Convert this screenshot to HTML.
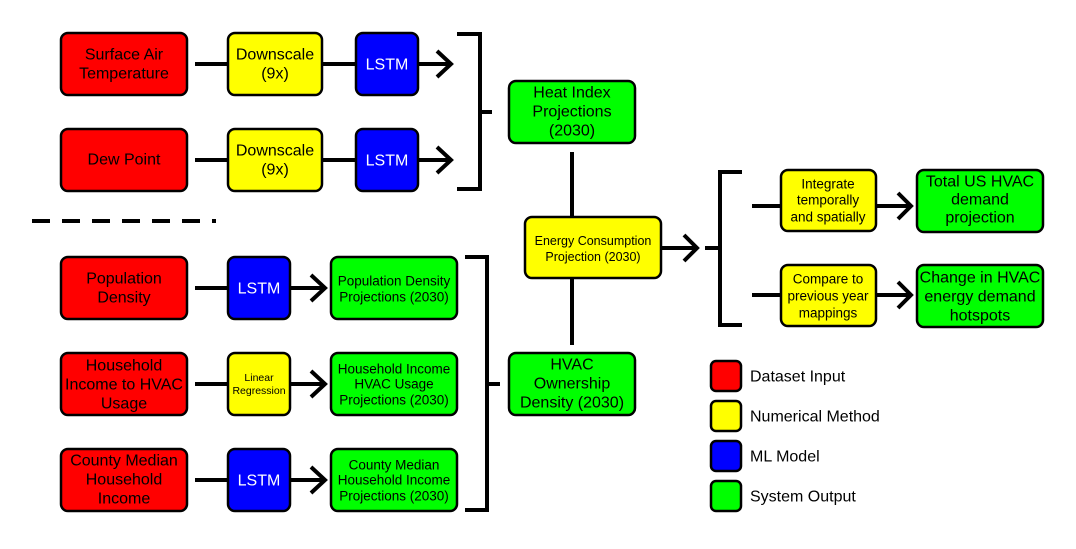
<!DOCTYPE html>
<html><head><meta charset="utf-8"><style>
body{margin:0;background:#fff}
svg text{font-family:"Liberation Sans",sans-serif;text-anchor:middle;dominant-baseline:central;fill:#000}
</style></head><body>
<svg width="1076" height="544" viewBox="0 0 1076 544" xmlns="http://www.w3.org/2000/svg">
<g stroke="#000" stroke-width="4" fill="none" stroke-linecap="butt">
<line x1="195" y1="64" x2="356" y2="64"/><line x1="418" y1="64" x2="451" y2="64"/>
<polyline points="437,51 451,64 437,77"/>
<line x1="195" y1="160" x2="356" y2="160"/><line x1="418" y1="160" x2="451" y2="160"/>
<polyline points="437,147 451,160 437,173"/>
<polyline points="457,34 480,34 480,189 457,189"/>
<line x1="480" y1="112" x2="492" y2="112"/>
<line x1="32" y1="221" x2="216" y2="221" stroke-dasharray="18,12"/>
<line x1="195" y1="288" x2="325" y2="288"/><polyline points="311,275 325,288 311,301"/>
<line x1="195" y1="384" x2="325" y2="384"/><polyline points="311,371 325,384 311,397"/>
<line x1="195" y1="480" x2="325" y2="480"/><polyline points="311,467 325,480 311,493"/>
<polyline points="465,257 487,257 487,510 465,510"/>
<line x1="487" y1="384" x2="500" y2="384"/>
<line x1="572" y1="152" x2="572" y2="217"/><line x1="572" y1="278" x2="572" y2="345"/>
<line x1="661" y1="248" x2="697" y2="248"/><polyline points="684,235 697,248 684,261"/>
<line x1="705" y1="248" x2="720" y2="248"/>
<polyline points="742,172 720,172 720,325 742,325"/>
<line x1="752" y1="206" x2="910" y2="206"/><polyline points="898,193 911,206 898,219"/>
<line x1="752" y1="295" x2="910" y2="295"/><polyline points="898,282 911,295 898,308"/>
</g>
<g stroke="#000" stroke-width="2.5">
<rect x="61" y="33" width="126" height="62" rx="7" fill="#f00"/>
<rect x="228" y="33" width="94" height="62" rx="7" fill="#ff0"/>
<rect x="356" y="33" width="62" height="62" rx="7" fill="#00f"/>
<rect x="61" y="129" width="126" height="62" rx="7" fill="#f00"/>
<rect x="228" y="129" width="94" height="62" rx="7" fill="#ff0"/>
<rect x="356" y="129" width="62" height="62" rx="7" fill="#00f"/>
<rect x="509" y="81" width="126" height="62" rx="7" fill="#0f0"/>
<rect x="61" y="257" width="126" height="62" rx="7" fill="#f00"/>
<rect x="228" y="257" width="62" height="62" rx="7" fill="#00f"/>
<rect x="331" y="257" width="126" height="62" rx="7" fill="#0f0"/>
<rect x="61" y="353" width="126" height="62" rx="7" fill="#f00"/>
<rect x="228" y="353" width="62" height="62" rx="7" fill="#ff0"/>
<rect x="331" y="353" width="126" height="62" rx="7" fill="#0f0"/>
<rect x="61" y="449" width="126" height="62" rx="7" fill="#f00"/>
<rect x="228" y="449" width="62" height="62" rx="7" fill="#00f"/>
<rect x="331" y="449" width="126" height="62" rx="7" fill="#0f0"/>
<rect x="509" y="353" width="126" height="62" rx="7" fill="#0f0"/>
<rect x="525" y="217" width="136" height="61" rx="7" fill="#ff0"/>
<rect x="781" y="170" width="95" height="61" rx="7" fill="#ff0"/>
<rect x="917" y="170" width="126" height="62" rx="7" fill="#0f0"/>
<rect x="781" y="265" width="95" height="61" rx="7" fill="#ff0"/>
<rect x="917" y="265" width="126" height="62" rx="7" fill="#0f0"/>
<rect x="711" y="361" width="30" height="30" rx="5" fill="#f00"/>
<rect x="711" y="401" width="30" height="30" rx="5" fill="#ff0"/>
<rect x="711" y="441" width="30" height="30" rx="5" fill="#00f"/>
<rect x="711" y="481" width="30" height="30" rx="5" fill="#0f0"/>
</g>
<g font-size="16">
<text x="124" y="55">Surface Air</text><text x="124" y="74">Temperature</text>
<text x="275" y="55">Downscale</text><text x="275" y="74">(9x)</text>
<text x="387" y="65" style="fill:#fff">LSTM</text>
<text x="124" y="160">Dew Point</text>
<text x="275" y="151">Downscale</text><text x="275" y="170">(9x)</text>
<text x="387" y="161" style="fill:#fff">LSTM</text>
<text x="572" y="93">Heat Index</text><text x="572" y="112">Projections</text><text x="572" y="131">(2030)</text>
<text x="124" y="279">Population</text><text x="124" y="298">Density</text>
<text x="259" y="289" style="fill:#fff">LSTM</text>
<text x="124" y="366">Household</text><text x="124" y="385">Income to HVAC</text><text x="124" y="404">Usage</text>
<text x="124" y="461">County Median</text><text x="124" y="480">Household</text><text x="124" y="499">Income</text>
<text x="259" y="481" style="fill:#fff">LSTM</text>
<text x="572" y="365">HVAC</text><text x="572" y="384">Ownership</text><text x="572" y="403">Density (2030)</text>
<text x="980" y="182">Total US HVAC</text><text x="980" y="200">demand</text><text x="980" y="218">projection</text>
<text x="980" y="278">Change in HVAC</text><text x="980" y="297">energy demand</text><text x="980" y="316">hotspots</text>
</g>
<g font-size="13.5">
<text x="394" y="281">Population Density</text><text x="394" y="297">Projections (2030)</text>
<text x="394" y="369">Household Income</text><text x="394" y="384">HVAC Usage</text><text x="394" y="400">Projections (2030)</text>
<text x="394" y="465">County Median</text><text x="394" y="480">Household Income</text><text x="394" y="496">Projections (2030)</text>
<text x="828" y="184">Integrate</text><text x="828" y="200">temporally</text><text x="828" y="217">and spatially</text>
<text x="828" y="279">Compare to</text><text x="828" y="296">previous year</text><text x="828" y="313">mappings</text>
</g>
<g font-size="12.5">
<text x="593" y="241">Energy Consumption</text><text x="593" y="257">Projection (2030)</text>
</g>
<g font-size="10.5">
<text x="259" y="378">Linear</text><text x="259" y="391">Regression</text>
</g>
<g font-size="16">
<text x="750" y="377" style="text-anchor:start">Dataset Input</text>
<text x="750" y="417" style="text-anchor:start">Numerical Method</text>
<text x="750" y="457" style="text-anchor:start">ML Model</text>
<text x="750" y="497" style="text-anchor:start">System Output</text>
</g>
</svg>
</body></html>
